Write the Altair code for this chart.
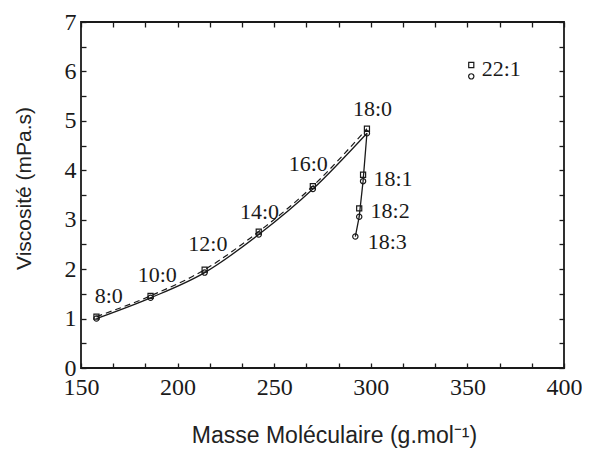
import altair as alt
import pandas as pd

# ---- data ----
labels = ["8:0", "10:0", "12:0", "14:0", "16:0", "18:0", "18:1", "18:2", "18:3", "22:1"]
mass = [158, 186, 214, 242, 270, 298, 296, 294, 292, 352]
visc_circle = [1.00, 1.42, 1.93, 2.70, 3.62, 4.75, 3.78, 3.06, 2.66, 5.90]
visc_square = [1.04, 1.46, 1.99, 2.76, 3.68, 4.84, 3.91, 3.23, None, 6.13]

# label anchor positions (data units)
label_mass = [164.4, 189.5, 215.7, 242.4, 267.6, 300.9, 301.4, 299.9, 298.4, 357.4]
label_visc = [1.46, 1.88, 2.51, 3.16, 4.13, 5.24, 3.83, 3.18, 2.55, 6.05]
label_align = ["center"] * 6 + ["left"] * 4

x_labels = [150, 200, 250, 300, 350, 400]
y_labels = [0, 1, 2, 3, 4, 5, 6, 7]
x_ticks = [150 + 50 / 3 * i for i in range(16)]
y_ticks = [0.5 * i for i in range(15)]

df = pd.DataFrame({
    "label": labels, "mass": mass,
    "circ": visc_circle, "sq": visc_square,
    "lx": label_mass, "ly": label_visc, "align": label_align,
})
df["idx"] = range(len(df))

INK = "#1a1a1a"
SERIF = "Liberation Serif"
SANS = "Liberation Sans"

xs = alt.Scale(domain=[150, 400], nice=False, zero=False)
ys = alt.Scale(domain=[0, 7], nice=False, zero=False)

# main axes (labels + titles, no ticks)
x_main = alt.Axis(orient="bottom", values=x_labels, format="d", ticks=False, domain=False,
                  grid=False, labelFont=SERIF, labelFontSize=24, labelColor=INK,
                  labelPadding=7, labelFlush=False, title="Masse Moléculaire (g.mol⁻¹)",
                  titleFont=SANS, titleFontSize=23, titleFontWeight="normal",
                  titleColor="#222", titleX=253, titleY=67, titleBaseline="middle",
                  titleAlign="center")
y_main = alt.Axis(orient="left", values=y_labels, format="d", ticks=False, domain=False,
                  grid=False, labelFont=SERIF, labelFontSize=24, labelColor=INK,
                  labelPadding=5, labelFlush=False, title="Viscosité (mPa.s)",
                  titleFont=SANS, titleFontSize=21, titleFontWeight="normal",
                  titleColor="#222", titleX=-57, titleY=166, titleAngle=-90,
                  titleBaseline="middle", titleAlign="center")


def tick_axis(orient, values):
    return alt.Axis(orient=orient, values=values, labels=False, domain=False, grid=False,
                    ticks=True, tickSize=5, tickWidth=1.3, tickColor=INK, offset=-5,
                    title=None)


base = alt.Chart(df)

# invisible layers carrying the inward tick axes
tick_layers = [
    base.mark_point(opacity=0).encode(
        x=alt.X("mass:Q", scale=xs, axis=tick_axis(ox, x_ticks)),
        y=alt.Y("circ:Q", scale=ys, axis=tick_axis(oy, y_ticks)),
    )
    for ox, oy in [("bottom", "left"), ("top", "right")]
]

curve = base.transform_filter("datum.idx <= 5").mark_line(
    color=INK, strokeWidth=1.3, interpolate="monotone"
).encode(
    x=alt.X("mass:Q", scale=xs, axis=x_main),
    y=alt.Y("circ:Q", scale=ys, axis=y_main),
    order="idx:Q",
)

drop = base.transform_filter("datum.idx >= 5 && datum.idx <= 8").mark_line(
    color=INK, strokeWidth=1.3
).encode(
    x=alt.X("mass:Q", scale=xs, axis=None),
    y=alt.Y("circ:Q", scale=ys, axis=None),
    order="idx:Q",
)

dashed = base.transform_filter("datum.idx <= 5").mark_line(
    color=INK, strokeWidth=1.2, strokeDash=[6, 4], interpolate="monotone"
).encode(
    x=alt.X("mass:Q", scale=xs, axis=None),
    y=alt.Y("sq:Q", scale=ys, axis=None),
    order="idx:Q",
)

circles = base.mark_point(shape="circle", filled=False, size=28, strokeWidth=1.2,
                          color=INK, opacity=1).encode(
    x=alt.X("mass:Q", scale=xs, axis=None),
    y=alt.Y("circ:Q", scale=ys, axis=None),
)

squares = base.transform_filter("isValid(datum.sq)").mark_point(
    shape="square", filled=False, size=26, strokeWidth=1.2, color=INK, opacity=1
).encode(
    x=alt.X("mass:Q", scale=xs, axis=None),
    y=alt.Y("sq:Q", scale=ys, axis=None),
)

text_c = base.transform_filter("datum.align == 'center'").mark_text(
    font=SERIF, fontSize=22, color=INK, align="center", baseline="middle"
).encode(
    x=alt.X("lx:Q", scale=xs, axis=None),
    y=alt.Y("ly:Q", scale=ys, axis=None),
    text="label:N",
)

text_l = base.transform_filter("datum.align == 'left'").mark_text(
    font=SERIF, fontSize=22, color=INK, align="left", baseline="middle"
).encode(
    x=alt.X("lx:Q", scale=xs, axis=None),
    y=alt.Y("ly:Q", scale=ys, axis=None),
    text="label:N",
)

chart = alt.layer(
    *tick_layers, curve, drop, dashed, circles, squares, text_c, text_l
).resolve_axis(x="independent", y="independent").properties(
    width=483, height=346,
    autosize=alt.AutoSizeParams(type="none"),
    padding={"left": 73, "top": 14, "right": 18, "bottom": 84},
    background="white",
).configure_view(stroke=INK, strokeWidth=1.8)

chart.save("out.html", embed_options={"renderer": "svg", "actions": False})
